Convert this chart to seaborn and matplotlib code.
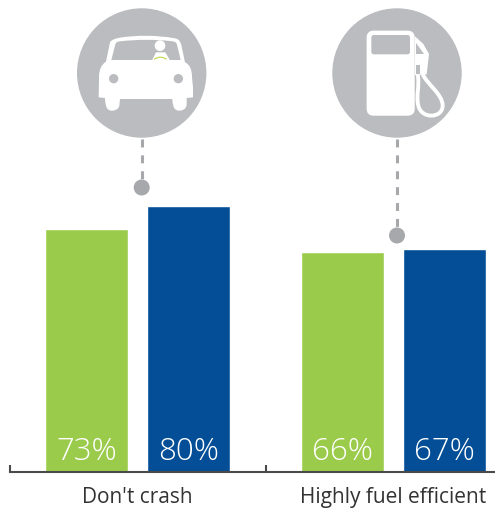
import matplotlib
matplotlib.use("Agg")
import matplotlib.pyplot as plt
import seaborn as sns
import pandas as pd
from matplotlib import font_manager as fm
from matplotlib.patches import Circle, Polygon, PathPatch, FancyBboxPatch
from matplotlib.path import Path

categories = ["Don't crash", "Highly fuel efficient"]
series_a = [73, 66]
series_b = [80, 67]
labels_a = ["73%", "66%"]
labels_b = ["80%", "67%"]
GREEN, BLUE = "#9BCB4B", "#034E96"
GRAY, DOT = "#BBBCBF", "#A7A8AB"

sns.set_theme(style="white")
plt.rcParams["font.family"] = ["Open Sans", "DejaVu Sans"]

# A light face for the value labels, if one is installed
light_family = "Open Sans"
for fam in ("Open Sans", "Noto Sans", "Lato", "Roboto"):
    if any(f.name == fam and f.weight in (300, "light") for f in fm.fontManager.ttflist):
        light_family = fam
        break

W, H = 495, 510
fig = plt.figure(figsize=(W / 100, H / 100), dpi=100, facecolor="white")

# Bars
LEFT = 9.6
ax = fig.add_axes([LEFT / W, (H - 472.5) / H, (W - LEFT) / W, 332 / H])
df = pd.DataFrame({
    "cat": categories * 2,
    "val": series_a + series_b,
    "series": ["a"] * 2 + ["b"] * 2,
})
sns.barplot(data=df, x="cat", y="val", hue="series", palette=[GREEN, BLUE],
            width=0.797, gap=0.19, saturation=1, legend=False, ax=ax)
ax.set_xlim(-0.5, -0.5 + (W - LEFT) / 256)
ax.set_ylim(0, 100)
ax.patch.set_alpha(0)
ax.set_xlabel("")
ax.set_ylabel("")
ax.set_yticks([])
for s in ("top", "left", "right"):
    ax.spines[s].set_visible(False)
ax.spines["bottom"].set_color("#4A4A4A")
ax.spines["bottom"].set_linewidth(1.5)
ax.set_xticks([-0.5, 0.5])
ax.set_xticklabels(["", ""])
ax.tick_params(axis="x", which="major", direction="in", length=5, width=1.5,
               color="#4A4A4A", bottom=True)
ax.set_xticks([0, 1], minor=True)
ax.set_xticklabels(categories, minor=True, fontsize=15, color="#333333")
ax.tick_params(axis="x", which="minor", length=0, pad=10.5)

bars = sorted([p for p in ax.patches if p.get_height() > 0], key=lambda p: p.get_x())
texts = [labels_a[0], labels_b[0], labels_a[1], labels_b[1]]
for p, t in zip(bars, texts):
    ax.annotate(t, (p.get_x() + p.get_width() / 2, 0), xytext=(0, 14.5),
                textcoords="offset points", ha="center", va="center",
                color="white", fontsize=22.5, family=light_family, fontweight="light")

# Icon overlay, in pixel coordinates of the figure
ov = fig.add_axes([0, 0, 1, 1])
ov.set_xlim(0, W)
ov.set_ylim(H, 0)
ov.axis("off")
ov.patch.set_alpha(0)


def z(points, x0=0):
    return [(x0 + a / 3, b / 3) for a, b in points]


def connector(x, y0, y1):
    ov.plot([x, x], [y0, y1], color=DOT, lw=2.2, dashes=(2.6, 2.6), solid_capstyle="butt")
    ov.add_patch(Circle((x, y1), 8, color=DOT, lw=0))


# Car
connector(141.7, 140, 188.5)
ov.add_patch(Circle((141.7, 74), 64.7, color=GRAY, lw=0))
M, L, C = Path.MOVETO, Path.LINETO, Path.CURVE4
car = [
    ((318, 188), M),
    ((330, 130), L),
    ((334, 122), C), ((345, 119), C), ((360, 116), C),
    ((410, 108), C), ((470, 108), C), ((525, 118), C),
    ((537, 120), C), ((541, 128), C), ((544, 138), C),
    ((555, 190), L),
    ((570, 197), C), ((576, 212), C), ((576, 235), C),
    ((579, 265), L), ((579, 295), L), ((560, 297), L), ((560, 318), L),
    ((558, 330), C), ((548, 335), C), ((538, 335), C),
    ((526, 335), C), ((518, 328), C), ((517, 300), C),
    ((360, 300), L), ((358, 320), L),
    ((356, 330), C), ((346, 335), C), ((336, 335), C),
    ((322, 335), C), ((316, 326), C), ((315, 297), C),
    ((296, 295), L), ((297, 235), L),
    ((297, 212), C), ((304, 197), C), ((318, 188), C),
]
ov.add_patch(PathPatch(Path(z([p for p, _ in car]), [c for _, c in car]), fc="white", lw=0))
shield = [
    ((334, 183), M), ((346, 136), L),
    ((348, 130), C), ((352, 128), C), ((360, 127), C),
    ((410, 121), C), ((470, 121), C), ((518, 127), C),
    ((526, 128), C), ((529, 131), C), ((531, 137), C),
    ((542, 183), L), ((334, 183), L),
]
ov.add_patch(PathPatch(Path(z([p for p, _ in shield]), [c for _, c in shield]), fc=GRAY, lw=0))
for cx in (341, 535):
    ov.add_patch(Circle((cx / 3, 239 / 3), 14 / 3, color=GRAY, lw=0))
ov.add_patch(Circle((480 / 3, 140 / 3), 16 / 3, color="white", lw=0))
ov.add_patch(Polygon(z([(456, 184), (468, 160), (496, 160), (510, 184)]), closed=True, fc="white", lw=0))
ov.add_patch(PathPatch(Path(z([(462, 181), (481, 168), (500, 181)]), [M, Path.CURVE3, Path.CURVE3]),
                       fc="none", ec="#C6DC5A", lw=0.9))

# Pump
PX = 250
connector(397, 140, 236.5)
ov.add_patch(Circle((397, 74), 64.7, color=GRAY, lw=0))
ov.add_patch(FancyBboxPatch((PX + 353 / 3, 98 / 3), 138 / 3, 249 / 3,
                            boxstyle="round,pad=0,rounding_size=6", fc="white", ec="white", lw=1.5))
ov.add_patch(FancyBboxPatch((PX + 364 / 3, 108 / 3), 116 / 3, 58 / 3,
                            boxstyle="round,pad=0,rounding_size=2.5", fc=GRAY, lw=0))
nozzle = [(495, 112), (520, 135), (537, 165), (530, 226), (495, 228)]
ov.add_patch(Polygon(z(nozzle, PX), closed=True, fc="white", lw=0))
ov.add_patch(Polygon(z([(499, 132), (499, 165), (522, 165)], PX), closed=True, fc=GRAY, lw=0))
ov.add_patch(Polygon(z([(499, 198), (510, 198), (510, 224), (499, 224)], PX), closed=True, fc=GRAY, lw=0))
hose = [(518, 225), (530, 255), (578, 285), (578, 320), (578, 358), (515, 362), (505, 320), (497, 290), (510, 260), (503, 226)]
ov.add_patch(PathPatch(Path(z(hose, PX), [M] + [C] * 9), fc="none", ec="white", lw=2.8))

fig.savefig("out.png", dpi=100)
